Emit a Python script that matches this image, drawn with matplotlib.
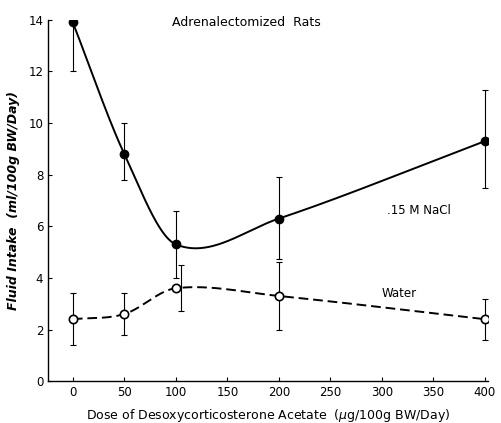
import numpy as np
import matplotlib
matplotlib.use("Agg")
import matplotlib.pyplot as plt

# dose (ug/100g BW/day)
dose = np.array([0, 50, 100, 200, 400])

# .15 M NaCl intake, mean and error bar ends
nacl = np.array([13.9, 8.8, 5.3, 6.3, 9.3])
nacl_lo = np.array([12.0, 7.8, 4.0, 4.75, 7.5])
nacl_hi = np.array([13.9, 10.0, 6.6, 7.9, 11.3])

# water intake
water = np.array([2.4, 2.6, 3.6, 3.3, 2.4])
water_lo = np.array([1.4, 1.8, 2.7, 2.0, 1.6])
water_hi = np.array([3.4, 3.4, 4.5, 4.6, 3.2])

xticks = [0, 50, 100, 150, 200, 250, 300, 350, 400]
yticks = [0, 2, 4, 6, 8, 10, 12, 14]


def smooth_curve(x, y, xs):
    # cardinal (Catmull-Rom style) Hermite curve through the points
    x = x.astype(float)
    y = y.astype(float)
    n = len(x)
    m = np.empty(n)
    m[0] = (y[1] - y[0]) / (x[1] - x[0])
    m[-1] = (y[-1] - y[-2]) / (x[-1] - x[-2])
    for i in range(1, n - 1):
        m[i] = (y[i + 1] - y[i - 1]) / (x[i + 1] - x[i - 1])
    out = np.empty_like(xs, dtype=float)
    for k, t in enumerate(xs):
        i = int(np.clip(np.searchsorted(x, t, side="right") - 1, 0, n - 2))
        h = x[i + 1] - x[i]
        s = (t - x[i]) / h
        h00 = 2 * s**3 - 3 * s**2 + 1
        h10 = s**3 - 2 * s**2 + s
        h01 = -2 * s**3 + 3 * s**2
        h11 = s**3 - s**2
        out[k] = h00 * y[i] + h10 * h * m[i] + h01 * y[i + 1] + h11 * h * m[i + 1]
    return out


plt.rcParams['font.family'] = ['DejaVu Sans']
fig = plt.figure(figsize=(5.01, 4.23), dpi=100)
ax = fig.add_axes([0.096, 0.099, 0.878, 0.854])

xs = np.linspace(0, 400, 600)
ax.plot(xs, smooth_curve(dose, nacl, xs), color='black', lw=1.4)
ax.plot(xs, smooth_curve(dose, water, xs), color='black', lw=1.4, ls=(0, (5, 2.5)))

ax.errorbar(dose, nacl, yerr=[nacl - nacl_lo, nacl_hi - nacl], fmt='none',
            ecolor='black', elinewidth=0.8, capsize=2.5, capthick=0.8)
# the water bar at 100 is drawn slightly to the right of its point
water_bar_x = dose + np.array([0, 0, 5, 0, 0])
ax.errorbar(water_bar_x, water, yerr=[water - water_lo, water_hi - water], fmt='none',
            ecolor='black', elinewidth=0.8, capsize=2.5, capthick=0.8)

ax.plot(dose, nacl, 'o', color='black', ms=6, zorder=5)
ax.plot(dose, water, 'o', mfc='white', mec='black', mew=1.2, ms=6, zorder=5)

ax.set_xlim(-24, 403)
ax.set_ylim(0, 14)
ax.set_xticks(xticks)
ax.set_yticks(yticks)
ax.tick_params(direction='in', length=3, width=0.8, labelsize=8.5)
for s in ['top', 'right']:
    ax.spines[s].set_visible(False)
for s in ['left', 'bottom']:
    ax.spines[s].set_linewidth(1.0)

ax.set_xlabel('Dose of Desoxycorticosterone Acetate  ($\\mu$g/100g BW/Day)', fontsize=9, labelpad=6)
ax.set_ylabel('Fluid Intake  (ml/100g BW/Day)', fontsize=9, style='italic',
              fontweight='bold', labelpad=6)

ax.text(96, 13.9, 'Adrenalectomized  Rats', fontsize=9, va='center', ha='left')
ax.text(305, 6.6, '.15 M NaCl', fontsize=8.5, va='center', ha='left')
ax.text(300, 3.4, 'Water', fontsize=8.5, va='center', ha='left')

fig.savefig('out.png', dpi=100)
